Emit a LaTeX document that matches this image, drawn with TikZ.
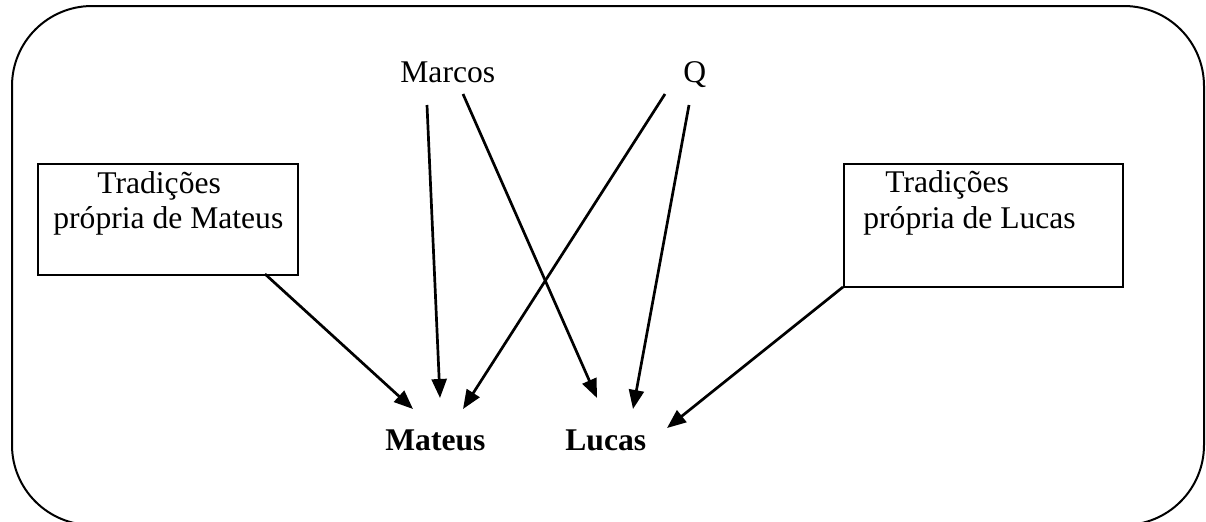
\documentclass[tikz,border=0pt]{standalone}
\usepackage{fontspec}
\setmainfont{Liberation Serif}
\usetikzlibrary{arrows.meta}
\begin{document}
\begin{tikzpicture}[x=0.5pt,y=-0.5pt,
  txt/.style={anchor=base west,inner sep=0pt,font=\fontsize{15.8}{17.5}\selectfont},
  btxt/.style={anchor=base west,inner sep=0pt,font=\fontsize{15.8}{17.5}\selectfont\bfseries},
  tbox/.style={draw,line width=0.9pt,anchor=north west,inner sep=0pt},
  arr/.style={line width=1.35pt,-{Triangle[length=9.5pt,width=7.5pt]}}]
\useasboundingbox (0,0) rectangle (1206,521);
% outer frame
\node[draw,line width=1pt,rounded corners=40pt,anchor=north west,inner sep=0pt,
  minimum width=596pt,minimum height=259.5pt] (frame) at (11,5) {};
% boxes
\node[tbox,minimum width=130pt,minimum height=55.5pt] (tm) at (37,163) {};
\node[tbox,minimum width=139.5pt,minimum height=61.5pt] (tl) at (843,163) {};
\node[txt] (tm1) at (97,193) {Tradições};
\node[txt] (tm2) at (53,228) {própria de Mateus};
\node[txt] (tl1) at (885,192) {Tradições};
\node[txt] (tl2) at (863,228) {própria de Lucas};
% sources
\node[txt] (marcos) at (400,82) {Marcos};
\node[txt] (q) at (683,82) {Q};
% targets
\node[btxt] (mateus) at (385,450) {Mateus};
\node[btxt] (lucas) at (565,450) {Lucas};
% connector ends
\coordinate (tmS) at (265,274);
\coordinate (tlS) at (843,287);
\coordinate (mS1) at (427,105);
\coordinate (mS2) at (463,94);
\coordinate (qS1) at (665,94);
\coordinate (qS2) at (689,105);
\coordinate (mtA) at (413,409);
\coordinate (mtB) at (440,398);
\coordinate (mtC) at (463,409);
\coordinate (lcA) at (597,398);
\coordinate (lcB) at (633,409);
\coordinate (lcC) at (667,428);
\draw[arr] (tmS) -- (mtA);
\draw[arr] (mS1) -- (mtB);
\draw[arr] (qS1) -- (mtC);
\draw[arr] (mS2) -- (lcA);
\draw[arr] (qS2) -- (lcB);
\draw[arr] (tlS) -- (lcC);
\end{tikzpicture}
\end{document}
